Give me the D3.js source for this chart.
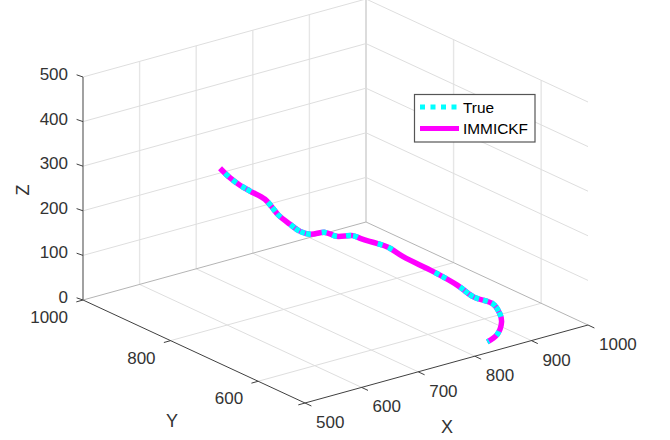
<!DOCTYPE html>
<html>
<head>
<meta charset="utf-8">
<script src="https://d3js.org/d3.v7.min.js"></script>
<style>
  body { margin: 0; background: #fff; }
  text { font-family: "Liberation Sans", Arial, sans-serif; fill: #333; }
</style>
</head>
<body>
<svg id="chart" width="670" height="440"></svg>
<script>
const width = 670;
const height = 440;

const xTicks = [500, 600, 700, 800, 900, 1000];
const yTicks = [600, 800, 1000];
const zTicks = [0, 100, 200, 300, 400, 500];

// values
const trackX = [647, 648, 652, 662, 676, 674, 669, 674, 681, 698, 736, 752, 792, 801, 813, 828, 845, 856, 890, 912, 919, 930, 919, 903, 870, 846];
const trackY = [877, 856, 838, 828, 812, 794, 772, 753, 739, 737, 752, 747, 761, 756, 754, 753, 748, 729, 704, 678, 650, 619, 590, 565, 533, 524];
const trackZ = [300, 288, 278, 266, 250, 242, 235, 222, 210, 198, 182, 170, 151, 144, 135, 125, 112, 96, 62, 36, 20, 14, 10, 8, 5, 2];

const legendNames = ['True', 'IMMICKF'];

const xMin = 500, xMax = 1000, yMin = 493, yMax = 1000, zMin = 0, zMax = 500;

// each axis moves the point along its own direction on screen
const xScale = d3.scaleLinear().domain([xMin, xMax]).range([[0, 0], [283, -78]]);
const yScale = d3.scaleLinear().domain([yMax, yMin]).range([[0, 0], [222, 103]]);
const zScale = d3.scaleLinear().domain([zMin, zMax]).range([[0, 0], [0, -223]]);
const origin = [83, 300];

function project(x, y, z) {
    const a = xScale(x), b = yScale(y), c = zScale(z);
    return [origin[0] + a[0] + b[0] + c[0], origin[1] + a[1] + b[1] + c[1]];
}

const svg = d3.select('#chart');

function seg(g, p, q, color, w) {
    g.append('line')
        .attr('x1', p[0]).attr('y1', p[1])
        .attr('x2', q[0]).attr('y2', q[1])
        .attr('stroke', color)
        .attr('stroke-width', w);
}

const grid = svg.append('g');
const gridColor = '#dedede';
const wallColor = '#e6e6e6';

// walls
xTicks.slice(1, -1).forEach(d => seg(grid, project(d, yMax, zMin), project(d, yMax, zMax), wallColor, 1.4));
yTicks.slice(0, -1).forEach(d => seg(grid, project(xMax, d, zMin), project(xMax, d, zMax), wallColor, 1.4));
zTicks.slice(1).forEach(d => {
    seg(grid, project(xMin, yMax, d), project(xMax, yMax, d), gridColor, 1);
    seg(grid, project(xMax, yMax, d), project(xMax, yMin, d), gridColor, 1);
});
seg(grid, project(xMax, yMax, zMin), project(xMax, yMax, zMax), '#dcdcdc', 2);

// floor
xTicks.slice(1, -1).forEach(d => seg(grid, project(d, yMin, zMin), project(d, yMax, zMin), gridColor, 1));
yTicks.slice(0, -1).forEach(d => seg(grid, project(xMin, d, zMin), project(xMax, d, zMin), gridColor, 1));
seg(grid, project(xMin, yMax, zMin), project(xMax, yMax, zMin), '#b4b4b4', 1);
seg(grid, project(xMax, yMax, zMin), project(xMax, yMin, zMin), '#b4b4b4', 1);

// axes
const axes = svg.append('g');
const axisColor = '#404040';
seg(axes, project(xMin, yMin, zMin), project(xMax, yMin, zMin), axisColor, 1);
seg(axes, project(xMin, yMax, zMin), project(xMin, yMin, zMin), axisColor, 1);
seg(axes, project(xMin, yMax, zMin), project(xMin, yMax, zMax), '#7a7a7a', 1.4);

xTicks.forEach(d => {
    const p = project(d, yMin, zMin);
    seg(axes, p, [p[0] + 6.4, p[1] + 3], axisColor, 1);
    axes.append('text').attr('x', p[0] + 11).attr('y', p[1] + 25)
        .attr('font-size', 17).text(d);
});
yTicks.forEach(d => {
    const p = project(xMin, d, zMin);
    seg(axes, p, [p[0] - 6.7, p[1] + 1.9], axisColor, 1);
    axes.append('text').attr('x', p[0] - 15).attr('y', p[1] + 23)
        .attr('text-anchor', 'end').attr('font-size', 17).text(d);
});
seg(axes, project(xMin, yMin, zMin), [project(xMin, yMin, zMin)[0] - 6.7, project(xMin, yMin, zMin)[1] + 1.9], axisColor, 1);
zTicks.forEach(d => {
    const p = project(xMin, yMax, d);
    seg(axes, p, [p[0] - 6.4, p[1] - 2.2], axisColor, 1);
    axes.append('text').attr('x', p[0] - 15).attr('y', p[1] + 3)
        .attr('text-anchor', 'end').attr('font-size', 17).text(d);
});

svg.append('text').attr('x', 447).attr('y', 433).attr('text-anchor', 'middle').attr('font-size', 18).text('X');
svg.append('text').attr('x', 172).attr('y', 427).attr('text-anchor', 'middle').attr('font-size', 18).text('Y');
svg.append('text').attr('transform', 'translate(29,190) rotate(-90)').attr('text-anchor', 'middle').attr('font-size', 18).text('Z');

// trajectory
const track = trackX.map((d, i) => project(d, trackY[i], trackZ[i]));
const line = d3.line().curve(d3.curveCatmullRom.alpha(0.5));

svg.append('path')
    .attr('d', line(track))
    .attr('fill', 'none')
    .attr('stroke', '#ff00ff')
    .attr('stroke-width', 5.5);

// where the true line shows from under the estimate, as distance along the path
const truePatches = [7, 17, 28, 34, 59, 66, 74, 91, 97, 103, 109, 125, 136, 150, 157, 183, 194, 247, 255, 276, 282, 288, 294, 303, 312, 318, 324, 344, 358];
const patchLen = 5;
let dash = [];
let last = 0;
truePatches.forEach(s => {
    dash.push(s - last, patchLen);
    last = s + patchLen;
});
dash.push(1000, 0);

svg.append('path')
    .attr('d', line(track))
    .attr('fill', 'none')
    .attr('stroke', '#00ffff')
    .attr('stroke-width', 5.5)
    .attr('stroke-dasharray', [0].concat(dash).join(' '));

// legend
const legend = svg.append('g');
legend.append('rect')
    .attr('x', 414.5).attr('y', 94.5)
    .attr('width', 120.5).attr('height', 47.5)
    .attr('fill', '#fff')
    .attr('stroke', '#555')
    .attr('stroke-width', 1.2);
legend.append('line')
    .attr('x1', 420).attr('x2', 457).attr('y1', 107).attr('y2', 107)
    .attr('stroke', '#00ffff').attr('stroke-width', 5)
    .attr('stroke-dasharray', '5 5.5');
legend.append('line')
    .attr('x1', 420).attr('x2', 459).attr('y1', 128.5).attr('y2', 128.5)
    .attr('stroke', '#ff00ff').attr('stroke-width', 5);
legend.selectAll('text').data(legendNames)
    .enter().append('text')
    .attr('x', 463)
    .attr('y', (d, i) => 113 + i * 21)
    .attr('font-size', 15.4)
    .style('fill', '#000')
    .text(d => d);
</script>
</body>
</html>
